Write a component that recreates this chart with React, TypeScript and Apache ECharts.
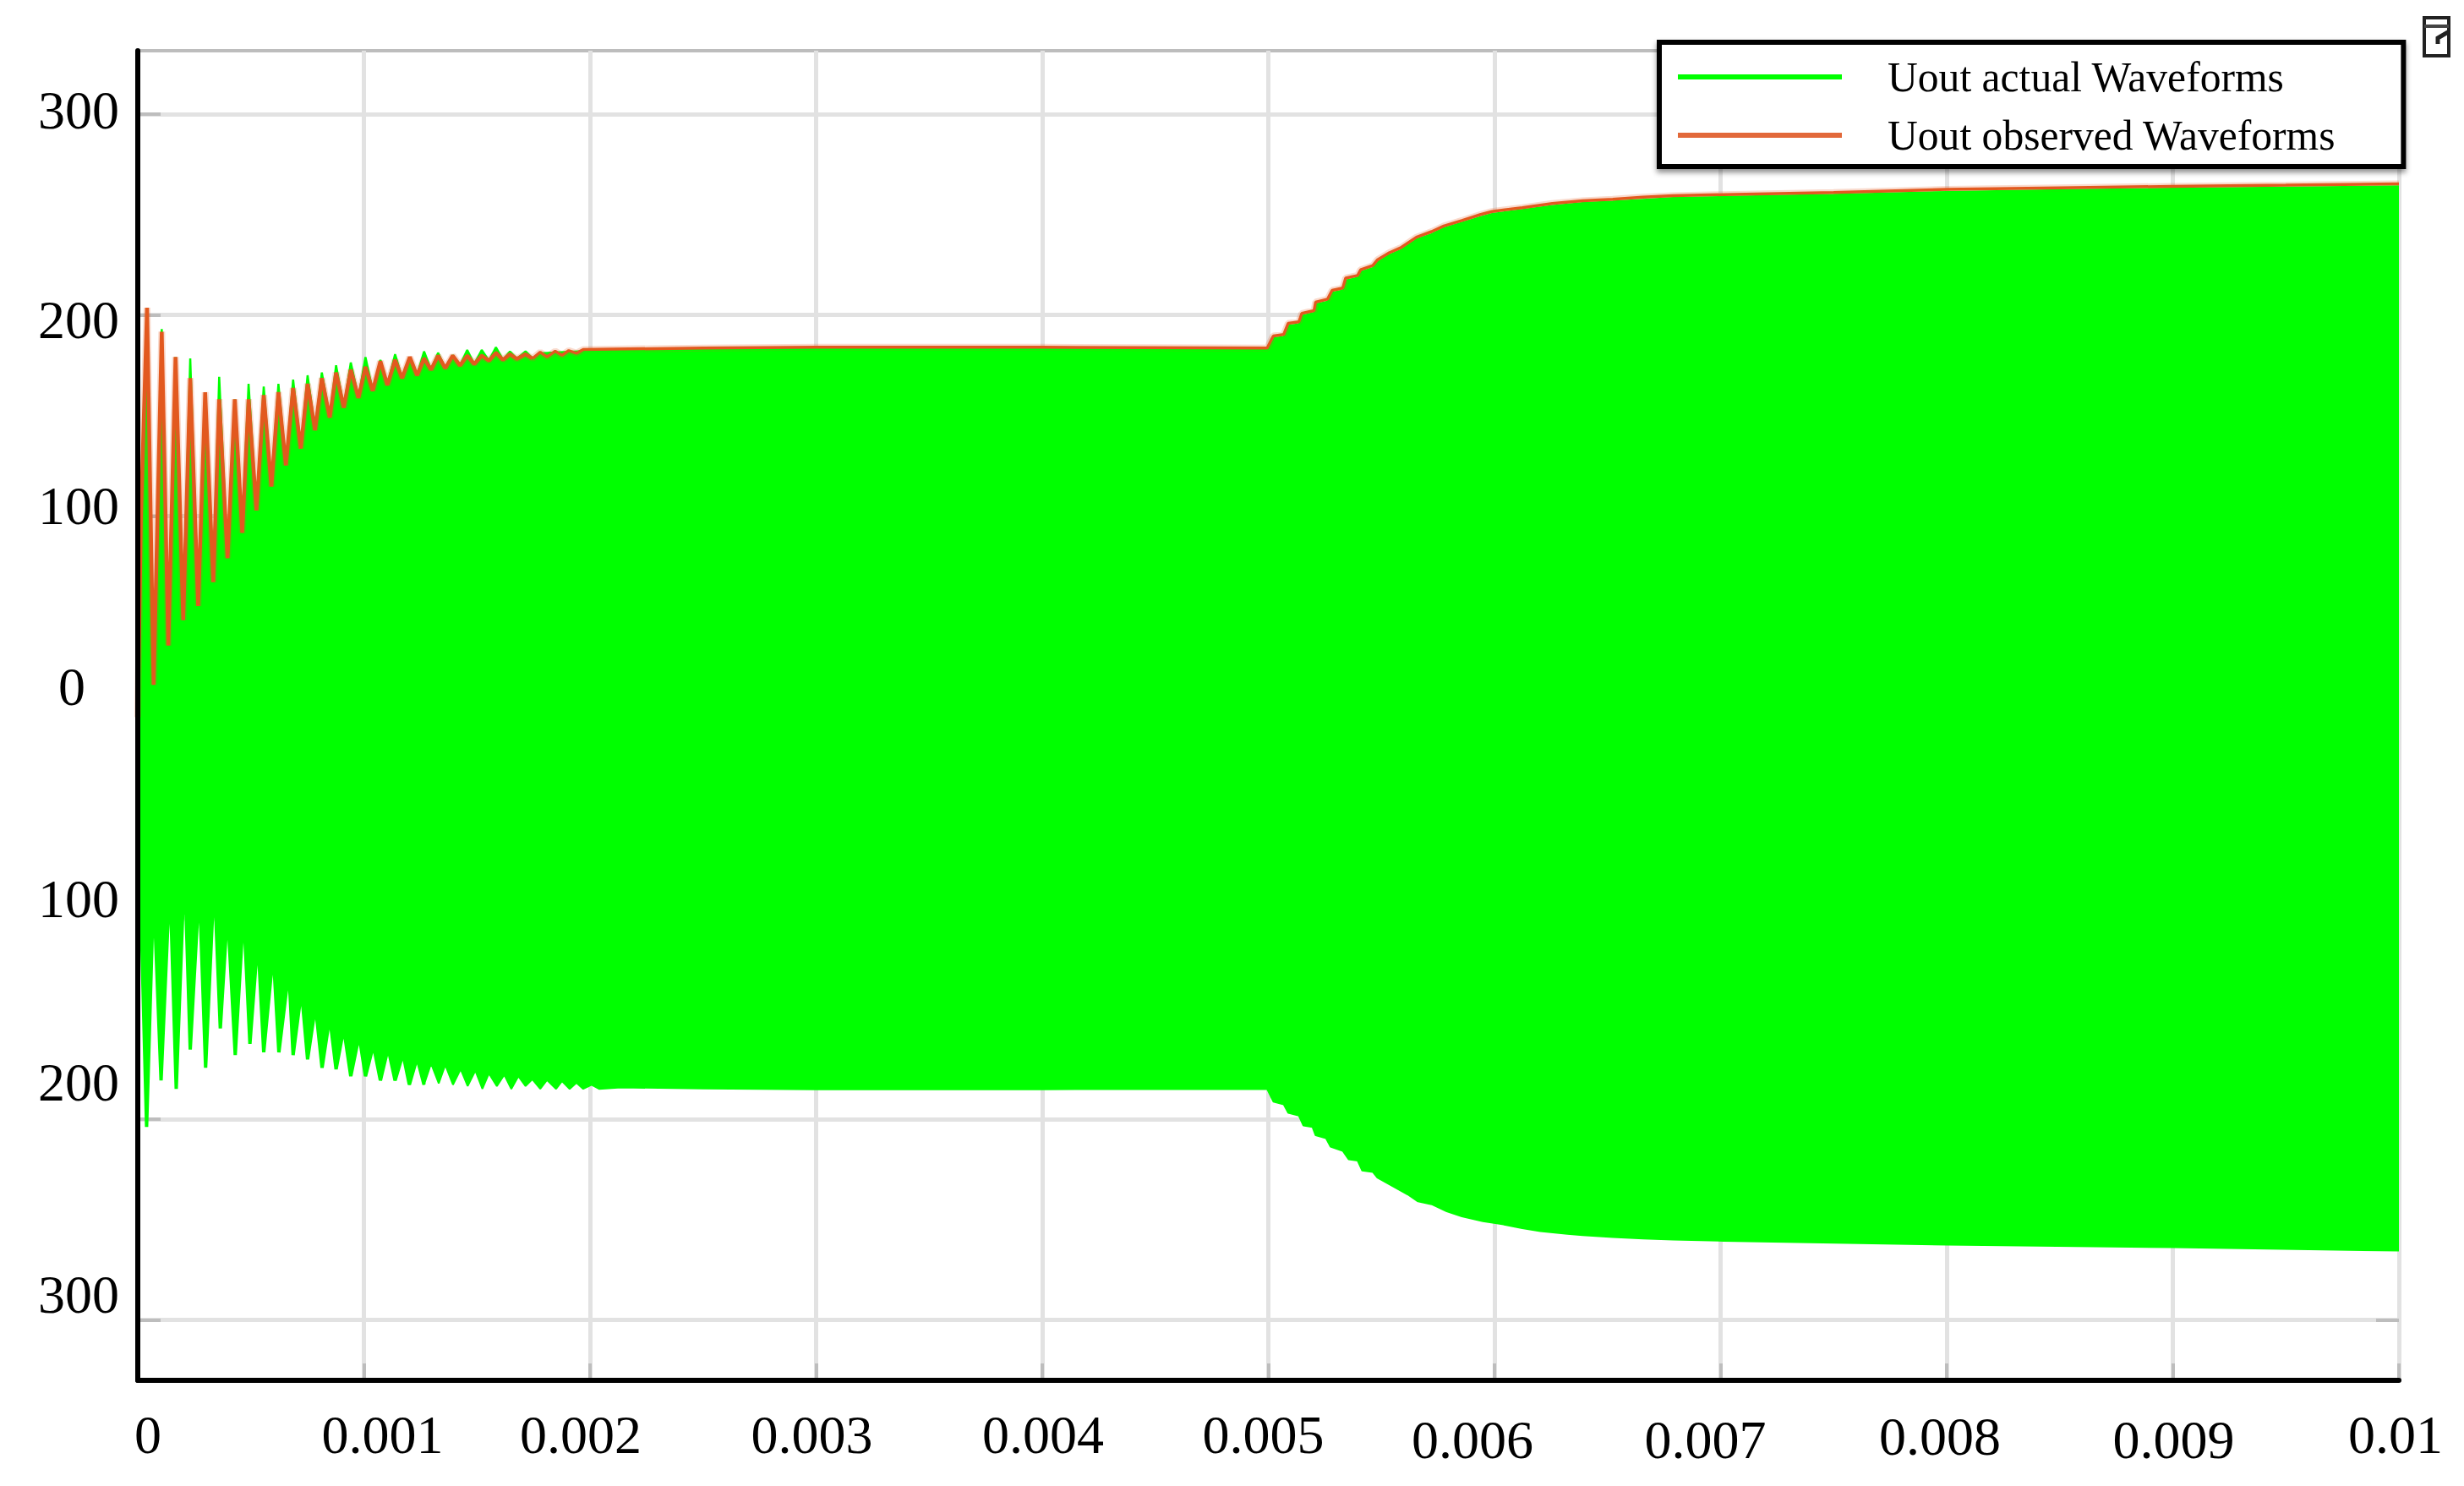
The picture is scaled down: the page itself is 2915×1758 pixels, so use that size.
import React, { useEffect, useRef } from "react";
import * as echarts from "echarts";

type P = [number, number];

// time in ms, voltage in V
const observedStart: P[] = [[0,0],[.014,100],[.041,203.6],[.070,16],[.106,191.7],[.135,35.6],[.167,179.1],[.201,48.2],[.232,168.6],[.267,55.2],[.298,161.6],[.334,67.1],[.360,158.1],[.397,79],[.429,158.1],[.462,91.6],[.490,158.1],[.525,102.8],[.557,160.2],[.591,114.7],[.622,161.6],[.655,125.2],[.687,163.7],[.721,133.6],[.751,165.8],[.784,142.7],[.814,168.6],[.849,149],[.877,171.4],[.911,153.9],[.942,172.8],[.976,158.8],[1.007,174.2],[1.039,162.3],[1.073,177],[1.104,165.1],[1.138,177.7],[1.169,168.6],[1.203,179.1],[1.235,170],[1.266,178.4],[1.297,172.8],[1.328,179.8],[1.360,173.5],[1.393,179.8],[1.425,174.9],[1.457,179.8],[1.488,175.6],[1.521,179.8],[1.553,177.3],[1.584,181.2],[1.615,177.7],[1.646,180.5],[1.677,178.2],[1.715,180.5],[1.746,178.4]];
const observedPlateau: P[] = [[1.78,181.5],[1.81,179.2],[1.846,182],[1.876,180],[1.906,182.3],[1.94,181],[1.97,182.8],[2.1,183],[2.5,183.6],[3,184],[4,184],[4.995,183.6]];
const observedRise: P[] = [[5.022,189.6],[5.068,190.3],[5.088,195.9],[5.135,196.6],[5.148,200.8],[5.202,202.2],[5.209,206.4],[5.262,207.9],[5.282,212.3],[5.329,213.4],[5.342,218.4],[5.395,219.7],[5.408,222.5],[5.462,224.6],[5.482,227.4],[5.535,231],[5.589,233.7],[5.655,238.7],[5.722,241.5],[5.776,244.3],[5.856,247],[5.936,249.9],[5.989,251.5],[6.123,253.4],[6.256,255.5],[6.39,256.9],[6.523,257.6],[6.657,258.6],[6.79,259.4],[7.014,259.9],[7.5,261],[8,262.5],[8.5,263.3],[9,264],[9.5,264.6],[10,265.3]];
const actualTopStart: P[] = [[0,0],[.014,100],[.041,203],[.070,16],[.106,193],[.135,35.6],[.167,179],[.201,48.2],[.232,178.4],[.267,55.2],[.298,161.6],[.334,67.1],[.360,169.3],[.397,79],[.429,158],[.462,91.6],[.490,165.8],[.525,102.8],[.557,164.4],[.591,114.7],[.622,165.8],[.655,125.2],[.687,167.9],[.721,133.6],[.751,170],[.784,142.7],[.814,171.4],[.849,149],[.877,175],[.911,153.9],[.942,176.4],[.976,158.8],[1.007,179.1],[1.039,162.3],[1.073,177.7],[1.104,165.1],[1.138,180.5],[1.169,168.6],[1.203,179.1],[1.235,170],[1.266,181.9],[1.297,172.8],[1.328,181.2],[1.360,173.5],[1.393,180],[1.425,174.9],[1.457,182.6],[1.488,175.6],[1.521,182.6],[1.553,177.3],[1.584,184],[1.615,177.7],[1.646,181.9],[1.677,178.2],[1.715,181.9],[1.746,178.4],[1.78,181],[1.846,181.4],[1.97,182],[2.1,182.2],[2.5,182.8],[3,183],[4,183],[4.995,182.6]];
const actualRise: P[] = [[5.022,188.4],[5.068,189.1],[5.088,194.6],[5.135,195.4],[5.148,199.5],[5.202,201],[5.209,205.2],[5.262,206.6],[5.282,211],[5.329,212.2],[5.342,217.1],[5.395,218.5],[5.408,221.3],[5.462,223.3],[5.482,226.1],[5.535,229.8],[5.589,232.4],[5.655,237.5],[5.722,240.2],[5.776,243.1],[5.856,245.8],[5.936,248.6],[5.989,250.2],[6.123,252.2],[6.256,254.2],[6.39,255.7],[6.523,256.4],[6.657,257.3],[6.79,258.2],[7.014,258.7],[7.5,259.8],[8,261.2],[8.5,262.1],[9,262.8],[9.5,263.4],[10,264]];
const actualBottomTeeth: P[] = [[0,0],[.015,-100],[.039,-203.9],[.070,-84.9],[.103,-180.8],[.142,-80],[.170,-185],[.207,-73],[.232,-165.4],[.272,-83.5],[.300,-174.5],[.338,-80],[.365,-154.9],[.397,-96.1],[.431,-168.2],[.468,-96.1],[.496,-162.6],[.531,-110.1],[.557,-166.8],[.599,-117.1],[.624,-166.8],[.668,-126.2],[.687,-168.2],[.724,-136],[.751,-170.3],[.786,-143.7],[.815,-174.5],[.849,-149.3],[.877,-175.2],[.911,-154.9],[.942,-178.7],[.979,-158.4],[1.007,-178.7],[1.042,-163.3],[1.073,-180.8],[1.107,-164.7],[1.138,-180.8],[1.173,-167.5],[1.201,-182.9],[1.235,-169.6],[1.266,-182.9]];
const actualBottomPlateau: P[] = [[1.297,-172.4],[1.331,-182.2],[1.360,-173.1],[1.394,-182.9],[1.428,-175.2],[1.459,-183.6],[1.493,-175.9],[1.524,-185],[1.553,-177.3],[1.588,-183.6],[1.621,-178],[1.652,-185],[1.683,-178.7],[1.715,-183.6],[1.745,-180.2],[1.78,-185],[1.81,-180.6],[1.85,-185],[1.876,-181.2],[1.91,-185],[1.94,-182],[1.97,-185],[2.007,-183],[2.04,-185],[2.137,-184.3],[2.5,-184.8],[3,-185.2],[4,-185.2],[4.995,-185]];
const actualBottomDrop: P[] = [[5.022,-191.3],[5.068,-192.7],[5.088,-196.9],[5.135,-198.3],[5.155,-203.2],[5.195,-203.9],[5.209,-208.1],[5.255,-209.5],[5.275,-213.7],[5.329,-215.8],[5.355,-220],[5.395,-220.7],[5.415,-225.6],[5.462,-226.3],[5.482,-229.1],[5.549,-233.3],[5.616,-237.5],[5.662,-241],[5.722,-242.4],[5.789,-245.9],[5.856,-248.4],[5.949,-250.8],[6.029,-252.2],[6.123,-254.3],[6.203,-255.8],[6.323,-257.1],[6.39,-257.8],[6.523,-258.7],[6.657,-259.5],[6.79,-260],[7.014,-260.6],[8,-262.5],[9,-263.8],[10,-265.5]];

const xTickLabels = ["0","0.001","0.002","0.003","0.004","0.005","0.006","0.007","0.008","0.009","0.01"];
const yTickValues = [-300,-200,-100,0,100,200,300];
const yTickLabels = ["300","200","100","0","100","200","300"];

const ACTUAL = "Uout actual Waveforms";
const OBSERVED = "Uout observed Waveforms";
const GREEN = "#00ff00";
const ORANGE = "#e2591f";
const FONT = "Liberation Serif";

// individual placement offsets of the hand-placed tick labels: [dx, dy]
const xLabelShift: P[] = [[12,0],[22,0],[-11,0],[-5,0],[1,0],[-6,0],[-26,3],[-18,3],[-8,1],[1,3],[-4,0]];
const yLabelShift: P[] = [[0,-30],[0,-43],[0,-23],[-40,-36],[0,-12],[0,6],[0,-4]];

function toSeconds(points: P[]): P[] {
  return points.map(([t, v]) => [t / 1000, v] as P);
}

function richFor(prefix: string, shifts: P[]) {
  const rich: Record<string, object> = {};
  shifts.forEach(([dx, dy], i) => {
    rich[prefix + i] = {
      fontFamily: FONT,
      fontSize: 64,
      color: "#000",
      padding: [dy > 0 ? 2 * dy : 0, dx < 0 ? (prefix === "y" ? -dx : -2 * dx) : 0, dy < 0 ? -2 * dy : 0, dx > 0 ? 2 * dx : 0],
    };
  });
  return rich;
}

export default function App() {
  const ref = useRef<HTMLDivElement>(null);
  useEffect(() => {
    const chart = echarts.init(ref.current!, undefined, { renderer: "svg" });
    const belowZero = { color: GREEN, opacity: 1, origin: 5 };
    const aboveZero = { color: GREEN, opacity: 1, origin: -5 };
    const line = { type: "line", xAxisIndex: 0, yAxisIndex: 0, showSymbol: false };
    const xBase = { type: "value", min: 0, max: 0.01, interval: 0.001, gridIndex: 0 };
    const yBase = { type: "value", min: -330, max: 331.5, gridIndex: 0 };
    chart.setOption({
      animation: false,
      backgroundColor: "#fff",
      grid: { left: 163, right: 77, top: 60, bottom: 125, show: true, borderColor: "#bdbdbd", borderWidth: 4, backgroundColor: "#fff" },
      legend: {
        left: 1963,
        top: 50,
        orient: "vertical",
        align: "left",
        padding: [16, 80, 12, 22],
        itemWidth: 194,
        itemHeight: 6,
        itemGap: 19,
        backgroundColor: "#fff",
        borderColor: "#000",
        borderWidth: 6,
        shadowColor: "rgba(0,0,0,0.45)",
        shadowBlur: 6,
        shadowOffsetY: 4,
        textStyle: { fontFamily: FONT, fontSize: 49.6, color: "#000", padding: [0, 0, 0, 49] },
        data: [
          { name: ACTUAL, icon: "rect", itemStyle: { color: GREEN } },
          { name: OBSERVED, icon: "rect", itemStyle: { color: "#e2693a", opacity: 1 } },
        ],
      },
      xAxis: [
        {
          ...xBase,
          position: "bottom",
          axisLine: { show: false, onZero: false },
          axisLabel: { show: false },
          axisTick: { show: true, inside: true, length: 20, lineStyle: { color: "#bdbdbd", width: 4 } },
          splitLine: { show: true, lineStyle: { color: "#e2e2e2", width: 5 } },
        },
        {
          ...xBase,
          position: "bottom",
          z: 10,
          axisLine: { show: true, onZero: false, lineStyle: { color: "#000", width: 6 } },
          axisTick: { show: false },
          splitLine: { show: false },
          axisLabel: {
            show: true,
            margin: 32,
            hideOverlap: false,
            formatter: (_v: number, i: number) => `{x${i}|${xTickLabels[i]}}`,
            rich: richFor("x", xLabelShift),
          },
        },
      ],
      yAxis: [
        {
          ...yBase,
          position: "left",
          axisLine: { show: false, onZero: false },
          axisLabel: { show: false, customValues: yTickValues },
          axisTick: { show: true, inside: true, length: 27, customValues: yTickValues, lineStyle: { color: "#bdbdbd", width: 4 } },
          splitLine: { show: true, lineStyle: { color: "#e2e2e2", width: 5 } },
        },
        {
          ...yBase,
          position: "left",
          z: 10,
          axisLine: { show: true, onZero: false, lineStyle: { color: "#000", width: 6 } },
          axisTick: { show: false, customValues: yTickValues },
          splitLine: { show: false },
          axisLabel: {
            show: true,
            customValues: yTickValues,
            margin: 22,
            hideOverlap: false,
            formatter: (v: number) => {
              const i = yTickValues.indexOf(v);
              return `{y${i}|${yTickLabels[i]}}`;
            },
            rich: richFor("y", yLabelShift),
          },
        },
        {
          ...yBase,
          position: "right",
          axisLine: { show: false, onZero: false },
          axisLabel: { show: false, customValues: yTickValues },
          axisTick: { show: true, inside: true, length: 27, customValues: yTickValues, lineStyle: { color: "#bdbdbd", width: 4 } },
          splitLine: { show: false },
        },
      ],
      series: [
        {
          ...line, name: OBSERVED, color: ORANGE,
          lineStyle: { color: ORANGE, width: 8, opacity: 0.22 },
          data: toSeconds([...observedStart, ...observedPlateau, ...observedRise]),
        },
        {
          ...line, name: ACTUAL, color: GREEN, lineStyle: { color: GREEN, width: 2 }, areaStyle: belowZero,
          data: toSeconds([...actualBottomTeeth.slice(-5), ...actualBottomPlateau, ...actualBottomDrop]),
        },
        {
          ...line, name: ACTUAL, color: GREEN, lineStyle: { color: GREEN, width: 4, join: "bevel" }, areaStyle: belowZero,
          data: toSeconds(actualBottomTeeth),
        },
        {
          ...line, name: ACTUAL, color: GREEN, lineStyle: { color: GREEN, width: 2.5 }, areaStyle: aboveZero,
          data: toSeconds([...actualTopStart, ...actualRise]),
        },
        {
          ...line, name: OBSERVED, color: ORANGE, lineStyle: { color: ORANGE, width: 4.5, join: "bevel" },
          data: toSeconds(observedStart),
        },
        {
          ...line, name: OBSERVED, color: ORANGE, lineStyle: { color: ORANGE, width: 3.5 },
          data: toSeconds([...observedStart.slice(-1), ...observedPlateau, ...observedRise]),
        },
      ],
      graphic: [
        { type: "rect", z: 20, shape: { x: 2868, y: 21, width: 29, height: 45 }, style: { fill: "#fff", stroke: "#222", lineWidth: 4 } },
        { type: "line", z: 21, shape: { x1: 2868, y1: 31, x2: 2897, y2: 31 }, style: { stroke: "#444", lineWidth: 4 } },
        { type: "polyline", z: 21, shape: { points: [[2884, 52], [2884, 45], [2896, 38]] }, style: { fill: "none", stroke: "#222", lineWidth: 5 } },
      ],
    });
    return () => chart.dispose();
  }, []);
  return <div ref={ref} style={{ position: "absolute", left: 0, top: 0, width: 2915, height: 1758 }} />;
}
